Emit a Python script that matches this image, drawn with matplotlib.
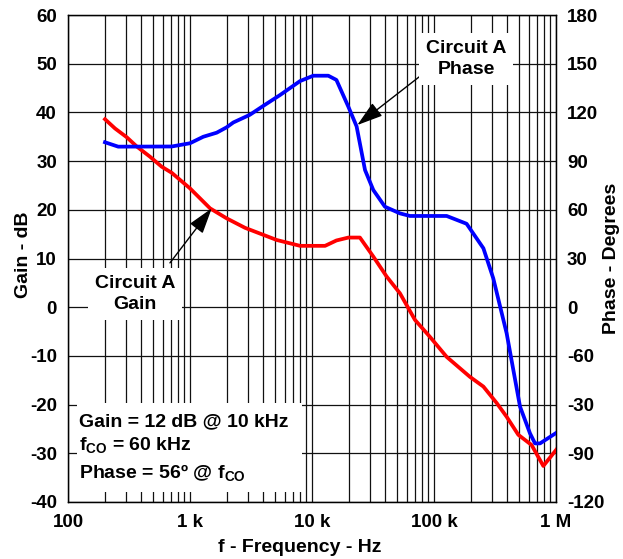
import matplotlib
matplotlib.use("Agg")
import matplotlib.pyplot as plt
from matplotlib.patches import Rectangle
from matplotlib.ticker import FixedLocator, LogLocator, NullFormatter

plt.rcParams['font.family'] = ['Liberation Sans', 'DejaVu Sans']
plt.rcParams['font.weight'] = 'bold'
plt.rcParams['mathtext.fontset'] = 'custom'
plt.rcParams['mathtext.rm'] = 'Liberation Sans:bold'
plt.rcParams['mathtext.it'] = 'Liberation Sans:bold'
plt.rcParams['mathtext.bf'] = 'Liberation Sans:bold'
plt.rcParams['mathtext.default'] = 'rm'

# ---- data ----
gain_freq = [201, 243, 303, 366, 470, 586, 708, 1000, 1460, 1995, 2825, 5140,
             7980, 12800, 15850, 19860, 24700, 31800, 40900, 52600, 69800,
             92700, 127000, 197000, 254000, 327000, 394000, 491000, 631000,
             787000, 1010000]
gain_db = [38.6, 36.7, 34.9, 33.0, 30.9, 28.85, 27.6, 24.4, 20.3, 18.25, 16.3,
           13.8, 12.6, 12.6, 13.7, 14.3, 14.3, 10.4, 6.3, 2.85, -2.6, -6.1,
           -10.2, -14.3, -16.3, -19.7, -22.5, -26.2, -28.3, -32.6, -29.2]

phase_freq = [201, 258, 708, 1000, 1285, 1655, 1995, 2265, 3090, 3985, 5470,
              7980, 10250, 13600, 15850, 19860, 23200, 27200, 31800, 39600,
              52600, 63500, 127000, 185000, 254000, 306000, 394000, 507000,
              612000, 673000, 740000, 1010000]
phase_deg = [101.6, 98.9, 99, 101, 105, 107.5, 110.8, 113.8, 118.5, 124,
             130.7, 139.3, 142.6, 142.6, 140, 123.5, 111.4, 84.5, 72.2, 61.9,
             57.8, 56.2, 56.2, 51.4, 36.3, 17.8, -16.1, -61.2, -77.7, -83.9,
             -83.9, -77.3]

x_ticks = [100, 1000, 10000, 100000, 1000000]
x_labels = ['100', '1 k', '10 k', '100 k', '1 M']
gain_ticks = list(range(-40, 61, 10))
phase_ticks = list(range(-120, 181, 30))
phase_labels = ['-120', '-90', '-30', '-60', '0', '30', '60', '90', '120', '150', '180']

FS = 14
TFS = 13.5

W, H = 623, 559
fig = plt.figure(figsize=(W / 100, H / 100), dpi=100)
L, R, T, B = 68, 556, 15, 502
ax = fig.add_axes([L / W, 1 - B / H, (R - L) / W, (B - T) / H])
ax.set_xscale('log')
ax.set_xlim(100, 1e6)
ax.set_ylim(-40, 60)

ax.xaxis.set_major_locator(FixedLocator(x_ticks))
ax.set_xticklabels(x_labels)
ax.xaxis.set_minor_locator(LogLocator(base=10, subs=range(2, 10), numticks=20))
ax.xaxis.set_minor_formatter(NullFormatter())
ax.set_yticks(gain_ticks)
ax.set_yticklabels([str(v) for v in gain_ticks])
ax.tick_params(axis='both', which='both', length=0, labelsize=TFS)
ax.tick_params(axis='y', pad=8)
ax.tick_params(axis='x', pad=8.5)
ax.grid(True, which='major', color='#111111', lw=0.9)
ax.grid(True, which='minor', axis='x', color='#111111', lw=0.9)
for s in ax.spines.values():
    s.set_linewidth(1.0)
    s.set_color('black')

ax2 = ax.twinx()
ax2.set_ylim(-120, 180)
ax2.set_yticks(phase_ticks)
ax2.set_yticklabels(phase_labels)
ax2.tick_params(axis='y', length=0, labelsize=TFS, pad=8)

ax.plot(gain_freq, gain_db, color='#ff0000', lw=2.7, zorder=3)
ax2.plot(phase_freq, phase_deg, color='#0000ff', lw=2.7, zorder=3)

# annotations
arrow = dict(arrowstyle='-|>,head_length=1.6,head_width=0.5', color='black',
             lw=1.0, mutation_scale=10, shrinkA=0, shrinkB=0)
ax.annotate('', xy=(23500, 37.4), xytext=(79300, 47.7), arrowprops=arrow, zorder=5)
ax.annotate('', xy=(1507, 20.3), xytext=(685, 9.1), arrowprops=arrow, zorder=5)

ax.text(183000, 51.0, 'Circuit A\nPhase', ha='center', va='center', fontsize=FS,
        fontweight='bold', linespacing=1.3, zorder=6,
        bbox=dict(boxstyle='square,pad=0.35', fc='white', ec='none'))
ax.text(354, 2.7, 'Circuit A\nGain', ha='center', va='center', fontsize=FS,
        fontweight='bold', linespacing=1.3, zorder=6,
        bbox=dict(boxstyle='square,pad=0.35', fc='white', ec='none'))

ax.add_patch(Rectangle((0.0184, 0.0205), 0.4611, 0.1828, transform=ax.transAxes,
                       fc='white', ec='none', zorder=5))
ax.text(0.0225, 0.1546, 'Gain = 12 dB @ 10 kHz', transform=ax.transAxes,
        fontsize=FS, fontweight='bold', va='baseline', zorder=6)
ax.text(0.0225, 0.1068, r'f$_{CO}$ = 60 kHz', transform=ax.transAxes,
        fontsize=FS, fontweight='bold', va='baseline', zorder=6)
ax.text(0.0225, 0.0493, r'Phase = 56º @ f$_{CO}$', transform=ax.transAxes,
        fontsize=FS, fontweight='bold', va='baseline', zorder=6)

fig.text(300 / W, 1 - 547 / H, 'f - Frequency - Hz', ha='center', va='center',
         fontsize=FS, fontweight='bold')
fig.text(23 / W, 1 - 255 / H, 'Gain - dB', ha='center', va='center',
         rotation=90, fontsize=FS, fontweight='bold')
fig.text(612 / W, 1 - 258 / H, 'Phase - Degrees', ha='center', va='center',
         rotation=90, fontsize=FS, fontweight='bold')

fig.savefig('out.png', dpi=100)
